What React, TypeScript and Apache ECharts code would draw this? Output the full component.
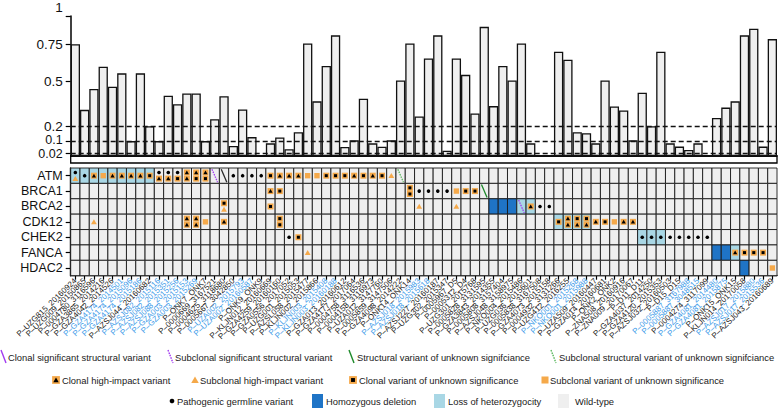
import React, { useEffect, useRef } from "react";
import * as echarts from "echarts";

const genes = ["ATM", "BRCA1", "BRCA2", "CDK12", "CHEK2", "FANCA", "HDAC2"];

const samples = [
  "P–UZG815_20160924", "P–UZG009_20150865", "P–0004780_3116596", "P–GZA3865_2014216",
  "P–GZA4042_2014526", "P–GZA4174_2014501", "P–GZA4174_2015096", "P–GZA4174_2015186",
  "P–AZSJ044_20160682", "P–AZSJ082_2015116", "P–AZSJ082_2015351", "P–AZSJ088_2015256",
  "P–GZA003_2015153", "P–GZA003_2015269", "P–ONK7_ONK7", "P–0000669_3167521",
  "P–0004625_3118680", "P–0005667_3042850", "P–UZA002_2015793", "P–UZA002_20160587",
  "P–ONK9_ONK9", "P–KLJN012_20160669", "P–GZA4259_20160160", "P–GZA0556_2017052",
  "P–UZG001_2015053", "P–AZSL058_2015477", "P–KLJN002_2015866", "P–KLJN003_2015408",
  "P–KLJN003_20160188", "P–GZA013_20160612", "P–GZA4177_2017064", "P–0004758_3116536",
  "P–0004158_3116973", "P–UZA012_3147760", "P–0005859_3147506", "P–GZA4098_2014222",
  "P–ONK14_ONK14", "P–AZSJ018_2015983", "P–AZSJ018_2015618", "P–AZSJ227_20160187",
  "P–UZG302_2015347", "P–0005967_D5", "P–0005312_D4", "P–UZG301_2015768",
  "P–0005828_3131595", "P–GZA3843_2014355", "P–0005808_3157404", "P–AZSJ048_3158975",
  "P–NKO004_2015486", "P–UZG036_2015601", "P–0005838_3167508", "P–GZA4073_2015158",
  "P–0004932_3131266", "P–UZG412_2016255", "P–NKO001_2015268", "P–NKO001_2015988",
  "P–UZA509_20160447", "P–GZA014_20160681", "P–ONK2_ONK2", "P–ZNA508_20160916",
  "P–ZNA009_20170067", "P–D11_D11", "P–GZA4037_2014250", "P–GZA4120_2015353",
  "P–AZSJ032_20160503", "P–D15_D15", "P–0005887_3167988", "P–0005887_3048515",
  "P–0004274_3117099", "P–GZA4081_2014480", "P–GZA4081_2015875", "P–ONK15_ONK15",
  "P–KLJN014_20170058", "P–AZSJ017_2015880", "P–AZSJ017_2015536", "P–AZSJ043_20160689",
];

const blueSampleIdx = [5, 6, 7, 9, 10, 11, 12, 13, 18, 19, 27, 28, 37, 38, 54, 55, 66, 67, 69, 70, 73, 74];

const fractionValues = [
  0.75, 0.31, 0.45, 0.6, 0.465, 0.555, 0.1, 0.555, 0.2, 0.1,
  0.405, 0.347, 0.42, 0.42, 0.1, 0.247, 0.402, 0.067, 0.313, 0.127,
  0, 0.085, 0.125, 0.045, 0.16, 0.755, 0.367, 0.605, 0.81, 0.06,
  0.105, 0.385, 0.085, 0.062, 0.105, 0.507, 0.755, 0.265, 0.655, 0.81,
  0.035, 0.655, 0.545, 0.285, 0.867, 0.335, 0.605, 0.507, 0.755, 0.085,
  0, 0, 0.7, 0.647, 0.16, 0.153, 0.085, 0.507, 0.333, 0.305,
  0.105, 0.425, 0.2, 0.7, 0.085, 0.063, 0.04, 0.085, 0, 0.255,
  0.325, 0.367, 0.81, 0.855, 0.063, 0.785,
];

const yTickValues = [0.02, 0.1, 0.2, 0.5, 0.75, 0.94];
const yLabelValues = [0.1, 0.2, 0.5, 0.75, 0.94];
const yTopLabel = "1";
const thresholdLines = [0.2, 0.1, 0.02];
const lowestThreshold = 0.02;

// [sampleIndex, geneIndex]
const lohCells = [
  [0, 0], [1, 0], [2, 0], [3, 0], [4, 0], [5, 0], [6, 0], [7, 0], [8, 0],
  [48, 2], [49, 2], [52, 3], [53, 3], [54, 3], [55, 3], [61, 4], [62, 4], [63, 4], [71, 5],
];
const homDelCells = [[45, 2], [46, 2], [47, 2], [69, 5], [70, 5], [72, 6]];

// [sampleIndex, geneIndex, kind] — order within a cell = top to bottom
const variantCalls: [number, number, string][] = [
  [0, 0, "germ"], [0, 0, "sHI"], [1, 0, "germ"], [2, 0, "cHI"], [3, 0, "sVUS"],
  [4, 0, "cHI"], [5, 0, "cHI"], [6, 0, "cHI"], [7, 0, "cHI"], [8, 0, "cVUS"],
  [9, 0, "germ"], [9, 0, "cHI"], [10, 0, "germ"], [10, 0, "cHI"], [11, 0, "germ"], [11, 0, "cVUS"],
  [12, 0, "cHI"], [12, 0, "cHI"], [13, 0, "cHI"], [13, 0, "cVUS"], [14, 0, "cHI"], [14, 0, "cVUS"],
  [17, 0, "germ"], [18, 0, "germ"], [19, 0, "germ"], [20, 0, "germ"],
  [21, 0, "cVUS"], [22, 0, "cHI"], [23, 0, "cHI"], [24, 0, "cHI"], [25, 0, "sVUS"], [26, 0, "sVUS"],
  [27, 0, "cVUS"], [28, 0, "cVUS"], [29, 0, "cVUS"], [30, 0, "cHI"], [31, 0, "cVUS"], [32, 0, "cHI"],
  [33, 0, "cVUS"], [34, 0, "sHI"],
  [21, 1, "cHI"], [22, 1, "cVUS"], [36, 1, "cVUS"], [36, 1, "cVUS"],
  [37, 1, "germ"], [38, 1, "germ"], [39, 1, "germ"], [40, 1, "germ"],
  [41, 1, "sVUS"], [42, 1, "cVUS"], [43, 1, "cVUS"],
  [16, 2, "cVUS"], [16, 2, "sHI"], [21, 2, "cVUS"], [37, 2, "sHI"], [41, 2, "sHI"],
  [49, 2, "cHI"], [50, 2, "germ"], [51, 2, "germ"],
  [2, 3, "sHI"], [12, 3, "cHI"], [12, 3, "cHI"], [13, 3, "cHI"], [13, 3, "cHI"], [14, 3, "sVUS"],
  [16, 3, "cHI"], [22, 3, "cVUS"], [22, 3, "cVUS"],
  [52, 3, "cVUS"], [53, 3, "cHI"], [53, 3, "cHI"], [54, 3, "cVUS"], [54, 3, "cHI"],
  [55, 3, "cVUS"], [55, 3, "cHI"], [56, 3, "cHI"], [57, 3, "cVUS"], [58, 3, "sVUS"],
  [59, 3, "cHI"], [60, 3, "cHI"],
  [23, 4, "germ"], [24, 4, "cVUS"], [61, 4, "germ"], [62, 4, "germ"], [63, 4, "germ"],
  [64, 4, "germ"], [65, 4, "germ"], [66, 4, "germ"], [67, 4, "germ"], [68, 4, "germ"],
  [25, 5, "sHI"], [71, 5, "cHI"], [72, 5, "cVUS"], [73, 5, "cVUS"], [74, 5, "cVUS"],
  [75, 6, "sVUS"],
];

// [sampleIndex, geneIndex, kind]
const structuralVariants: [number, number, string][] = [
  [15, 0, "svSubSig"], [16, 0, "svOther"], [35, 0, "svSubUnk"], [44, 1, "svUnk"], [48, 2, "svSubSig"],
];

const ORANGE = "#f5a94a";
const WT = "#efefef";
const LOH = "#a9d7e5";
const DEL = "#1f74c6";
const FONT = "Liberation Sans, Arial, sans-serif";
const Y_FONT = 12.5;
const SV_STYLE: Record<string, { stroke: string; lineDash?: number[] }> = {
  svSig: { stroke: "#a23cf0" },
  svSubSig: { stroke: "#a23cf0", lineDash: [1.6, 1] },
  svUnk: { stroke: "#1e8a2a" },
  svSubUnk: { stroke: "#5cb860", lineDash: [1.6, 1] },
  svOther: { stroke: "#2a2a2a" },
};

function markShapes(kind: string, cx: number, cy: number, k = 1): any[] {
  const s = k;
  if (kind === "germ") return [{ type: "circle", shape: { cx, cy, r: 1.8 * s }, style: { fill: "#000" } }];
  if (kind === "sHI")
    return [{ type: "polygon", shape: { points: [[cx, cy - 2.7 * s], [cx + 2.9 * s, cy + 2.3 * s], [cx - 2.9 * s, cy + 2.3 * s]] }, style: { fill: ORANGE } }];
  if (kind === "cHI")
    return [
      { type: "rect", shape: { x: cx - 3 * s, y: cy - 3 * s, width: 6 * s, height: 6 * s }, style: { fill: ORANGE } },
      { type: "polygon", shape: { points: [[cx, cy - 2 * s], [cx + 2.1 * s, cy + 1.7 * s], [cx - 2.1 * s, cy + 1.7 * s]] }, style: { fill: "#000" } },
    ];
  if (kind === "sVUS")
    return [{ type: "rect", shape: { x: cx - 2.7 * s, y: cy - 2.7 * s, width: 5.4 * s, height: 5.4 * s }, style: { fill: ORANGE } }];
  if (kind === "cVUS")
    return [
      { type: "rect", shape: { x: cx - 3 * s, y: cy - 3 * s, width: 6 * s, height: 6 * s }, style: { fill: ORANGE } },
      { type: "rect", shape: { x: cx - 1.5 * s, y: cy - 1.5 * s, width: 3 * s, height: 3 * s }, style: { fill: "#000" } },
    ];
  return [];
}

const legendRows = [
  {
    y: 357,
    items: [
      { kind: "svSig", ix: 1, tx: 8, label: "Clonal significant structural variant" },
      { kind: "svSubSig", ix: 168, tx: 175, label: "Subclonal significant structural variant" },
      { kind: "svUnk", ix: 349, tx: 357, label: "Structural variant of unknown signifciance" },
      { kind: "svSubUnk", ix: 551, tx: 559, label: "Subclonal structural variant of unknown signifciance" },
    ],
  },
  {
    y: 380,
    items: [
      { kind: "cHI", ix: 56, tx: 62, label: "Clonal high-impact variant" },
      { kind: "sHI", ix: 195, tx: 200, label: "Subclonal high-impact variant" },
      { kind: "cVUS", ix: 353, tx: 359, label: "Clonal variant of unknown significance" },
      { kind: "sVUS", ix: 545, tx: 550, label: "Subclonal variant of unknown significance" },
    ],
  },
  {
    y: 401,
    items: [
      { kind: "germ", ix: 172, tx: 177, label: "Pathogenic germline variant" },
      { kind: "del", ix: 312, tx: 326, label: "Homozygous deletion" },
      { kind: "loh", ix: 434, tx: 448, label: "Loss of heterozygocity" },
      { kind: "wt", ix: 558, tx: 575, label: "Wild-type" },
    ],
  },
];

function legendGraphics(): any[] {
  const out: any[] = [];
  legendRows.forEach((row) => {
    row.items.forEach((it) => {
      const y = row.y;
      if (it.kind.startsWith("sv")) {
        const st = SV_STYLE[it.kind];
        out.push({
          type: "line",
          shape: { x1: it.ix, y1: y - 7, x2: it.ix + 5, y2: y + 6 },
          style: { stroke: st.stroke, lineWidth: 1.4, lineDash: st.lineDash },
        });
      } else if (it.kind === "del" || it.kind === "loh" || it.kind === "wt") {
        const fill = it.kind === "del" ? DEL : it.kind === "loh" ? LOH : WT;
        out.push({ type: "rect", shape: { x: it.ix, y: y - 7, width: 11, height: 14 }, style: { fill } });
      } else {
        out.push(...markShapes(it.kind, it.ix, y, 1.3));
      }
      out.push({
        type: "text",
        x: it.tx,
        y,
        style: { text: it.label, fill: "#1a1a1a", font: `9.4px ${FONT}`, textVerticalAlign: "middle", textAlign: "left" },
      });
    });
  });
  return out;
}

export default function App() {
  const ref = useRef<HTMLDivElement>(null);
  useEffect(() => {
    if (!ref.current) return;
    const chart = echarts.init(ref.current, null, { renderer: "svg" });

    const lohSet = new Set(lohCells.map(([s, g]) => `${s}-${g}`));
    const delSet = new Set(homDelCells.map(([s, g]) => `${s}-${g}`));
    const varMap = new Map<string, string[]>();
    variantCalls.forEach(([s, g, k]) => {
      const key = `${s}-${g}`;
      if (!varMap.has(key)) varMap.set(key, []);
      varMap.get(key)!.push(k);
    });
    const svMap = new Map<string, string>();
    structuralVariants.forEach(([s, g, k]) => svMap.set(`${s}-${g}`, k));

    const cells: number[][] = [];
    genes.forEach((_, gi) => samples.forEach((_, si) => cells.push([si, gi])));

    const gridLeft = 70.7;
    const gridWidth = 706.3;

    const option: any = {
      animation: false,
      backgroundColor: "#fff",
      textStyle: { fontFamily: FONT },
      grid: [
        { left: gridLeft, top: 15, width: gridWidth, height: 141 },
        { left: gridLeft, top: 168, width: gridWidth, height: 107.7 },
      ],
      xAxis: [
        {
          type: "category",
          gridIndex: 0,
          data: samples,
          axisLine: { show: true, lineStyle: { color: "#000", width: 1.6 } },
          axisTick: { show: false },
          axisLabel: { show: false },
        },
        {
          type: "category",
          gridIndex: 1,
          data: samples.map((s, i) => ({
            value: s,
            textStyle: { color: blueSampleIdx.includes(i) ? "#3d9be9" : "#1a1a1a" },
          })),
          axisLine: { show: true, lineStyle: { color: "#000", width: 1.4 } },
          axisTick: { show: true, alignWithLabel: true, interval: 0, length: 4, lineStyle: { color: "#000", width: 1.2 } },
          axisLabel: { interval: 0, rotate: 44, fontSize: 8, margin: 4, fontFamily: FONT, hideOverlap: false },
        },
      ],
      yAxis: [
        {
          type: "value",
          gridIndex: 0,
          min: 0,
          max: 0.94,
          splitLine: { show: false },
          axisLine: { show: true, lineStyle: { color: "#000", width: 1.5 } },
          axisTick: { show: true, length: 5, customValues: yTickValues, lineStyle: { color: "#000", width: 1.2 } },
          axisLabel: {
            customValues: yLabelValues,
            fontSize: 13.5,
            color: "#111",
            margin: 8,
            fontFamily: FONT,
            formatter: (v: number) =>
              Math.abs(v - 0.94) < 1e-6 ? `{t|${yTopLabel}}` : Math.abs(v - 0.1) < 1e-6 ? `{s|${v}}` : String(v),
            rich: {
              t: { fontSize: 13.5, color: "#111", fontFamily: FONT, padding: [0, 0, 18, 0] },
              s: { fontSize: Y_FONT, color: "#111", fontFamily: FONT, lineHeight: 11, padding: [0, 0, 2, 0] },
            },
          },
        },
        {
          type: "category",
          gridIndex: 1,
          data: genes,
          inverse: true,
          axisLine: { show: true, lineStyle: { color: "#000", width: 1.4 } },
          axisTick: { show: true, alignWithLabel: true, interval: 0, length: 5, lineStyle: { color: "#000", width: 1.2 } },
          axisLabel: { interval: 0, fontSize: 12.5, color: "#111", margin: 8, fontFamily: FONT, hideOverlap: false },
        },
      ],
      series: [
        {
          type: "bar",
          xAxisIndex: 0,
          yAxisIndex: 0,
          data: fractionValues,
          barCategoryGap: "0%",
          itemStyle: { color: "#efefef", borderColor: "#111", borderWidth: 1.3 },
          markLine: {
            silent: true,
            symbol: ["none", "none"],
            label: { show: false },
            lineStyle: { color: "#111", type: [5, 3], width: 1.3 },
            data: thresholdLines.map((v) =>
              v === lowestThreshold
                ? {
                    yAxis: v,
                    label: {
                      show: true,
                      position: "start",
                      distance: 8,
                      formatter: String(v),
                      fontSize: Y_FONT,
                      lineHeight: 11,
                      offset: [0, 1],
                      color: "#111",
                      fontFamily: FONT,
                    },
                  }
                : { yAxis: v }
            ),
          },
        },
        {
          type: "custom",
          xAxisIndex: 1,
          yAxisIndex: 1,
          data: cells,
          encode: { x: 0, y: 1 },
          clip: false,
          renderItem: (params: any, api: any) => {
            const si = api.value(0);
            const gi = api.value(1);
            const c = api.coord([si, gi]);
            const sz = api.size([1, 1]);
            const w = sz[0];
            const h = sz[1];
            const key = `${si}-${gi}`;
            const fill = delSet.has(key) ? DEL : lohSet.has(key) ? LOH : WT;
            const children: any[] = [
              {
                type: "rect",
                shape: { x: c[0] - w / 2, y: c[1] - h / 2, width: w, height: h },
                style: { fill, stroke: "#1a1a1a", lineWidth: 0.9 },
              },
            ];
            const marks = varMap.get(key) || [];
            const offs = marks.length === 1 ? [0] : [-h * 0.21, h * 0.19];
            marks.forEach((m, i) => children.push(...markShapes(m, c[0], c[1] + offs[i])));
            const sv = svMap.get(key);
            if (sv) {
              const st = SV_STYLE[sv];
              children.push({
                type: "line",
                shape: { x1: c[0] - w * 0.3, y1: c[1] - h * 0.42, x2: c[0] + w * 0.3, y2: c[1] + h * 0.42 },
                style: { stroke: st.stroke, lineWidth: 1.3, lineDash: st.lineDash },
              });
            }
            return { type: "group", children };
          },
        },
      ],
      graphic: [
        {
          type: "rect",
          shape: { x: gridLeft, y: 156, width: gridWidth, height: 7 },
          style: { fill: "#fff", stroke: "#000", lineWidth: 1.3 },
        },
        ...legendGraphics(),
      ],
    };
    chart.setOption(option);
    return () => chart.dispose();
  }, []);

  return <div ref={ref} style={{ position: "fixed", left: 0, top: 0, width: 778, height: 414, background: "#fff" }} />;
}
